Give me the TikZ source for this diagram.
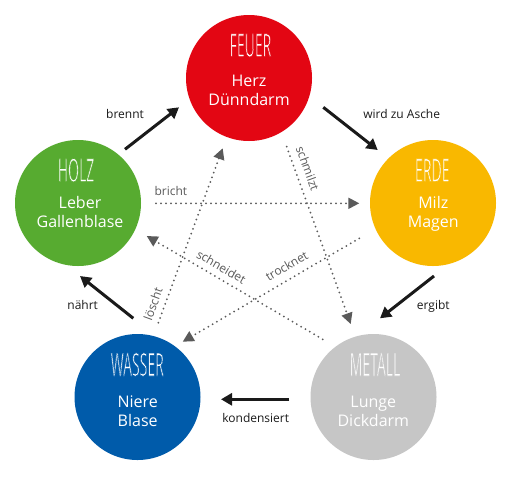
\documentclass[tikz,border=0pt]{standalone}
\usepackage{fontspec}
\setmainfont{Open Sans}
\usepackage{graphicx}
\usetikzlibrary{arrows.meta,calc}
\definecolor{feuerc}{HTML}{E30613}
\definecolor{holzc}{HTML}{57AB30}
\definecolor{erdec}{HTML}{F9B800}
\definecolor{wasserc}{HTML}{005BAA}
\definecolor{metallc}{HTML}{C6C6C6}
\definecolor{dotgrey}{HTML}{5A5A5A}
\definecolor{lblblack}{HTML}{1A1A1A}
% title: tall narrow letters, thinned by a stroke in the circle's colour
\newcommand{\ttltext}[2]{\scalebox{1}[2.3]{\fontsize{14}{14}\selectfont\special{pdf:literal direct 2 Tr 0.3 w #2 RG}#1\special{pdf:literal direct 0 Tr}}}
\begin{document}
\begin{tikzpicture}[x=1pt,y=-1pt,
  elem/.style={circle,inner sep=0pt,minimum size=126pt},
  ttl/.style={anchor=base,text=white,inner sep=0pt},
  body/.style={anchor=base,text=white,inner sep=0pt,font=\fontsize{16}{19}\selectfont},
  lbl/.style={anchor=base,inner sep=0pt,text=lblblack,font=\fontsize{12}{14}\selectfont},
  dlbl/.style={inner sep=0pt,text=dotgrey,font=\fontsize{12}{14}\selectfont},
  cyc/.style={lblblack,line width=3pt,-{Triangle[length=11pt,width=12pt]}},
  ctrl/.style={dotgrey,line width=2pt,line cap=round,dash pattern=on 0pt off 5pt,-{Triangle[length=11pt,width=11pt]}}
]
\useasboundingbox (0,0) rectangle (510,480);
\fill[white] (0,0) rectangle (510,480);

% circles
\node[elem,fill=feuerc]  (feuer)  at (249,78) {};
\node[elem,fill=holzc]   (holz)   at (78,203) {};
\node[elem,fill=erdec]   (erde)   at (433,203) {};
\node[elem,fill=wasserc] (wasser) at (137.5,397) {};
\node[elem,fill=metallc] (metall) at (373.5,397) {};

% titles and organs
\node[ttl] (t-feuer) at (250.5,56.7) {\ttltext{FEUER}{0.890 0.024 0.075}};
\node[body] (b-feuer1) at (249,86) {Herz};
\node[body] (b-feuer2) at (249,105.3) {Dünndarm};

\node[ttl] (t-holz) at (76,181.7) {\ttltext{HOLZ}{0.341 0.671 0.188}};
\node[body] (b-holz1) at (80,208.3) {Leber};
\node[body] (b-holz2) at (80,227) {Gallenblase};

\node[ttl] (t-erde) at (432.3,181.7) {\ttltext{ERDE}{0.976 0.722 0}};
\node[body] (b-erde1) at (433.3,208.3) {Milz};
\node[body] (b-erde2) at (433.3,227) {Magen};

\node[ttl] (t-wasser) at (137.3,376) {\ttltext{WASSER}{0 0.357 0.667}};
\node[body] (b-wasser1) at (137.7,407.3) {Niere};
\node[body] (b-wasser2) at (137.7,426) {Blase};

\node[ttl] (t-metall) at (375,376) {\ttltext{METALL}{0.776 0.776 0.776}};
\node[body] (b-metall1) at (373.3,407.3) {Lunge};
\node[body] (b-metall2) at (373.3,426) {Dickdarm};

% generating cycle (solid)
\draw[cyc] ($(holz)+(47,-53.7)$) -- ($(feuer)+(-70,29.3)$);
\draw[cyc] ($(feuer)+(74.3,29.3)$) -- ($(erde)+(-55.3,-53)$);
\draw[cyc] ($(erde)+(1,73)$) -- ($(metall)+(6.5,-78.7)$);
\draw[cyc] ($(metall)+(-84.2,2.3)$) -- ($(wasser)+(83.5,2.3)$);
\draw[cyc] ($(wasser)+(-4.2,-78.7)$) -- ($(holz)+(2,73)$);

\node[lbl] (l-brennt) at (125,118.3) {brennt};
\node[lbl] (l-asche) at (401.7,118.3) {wird zu Asche};
\node[lbl] (l-ergibt) at (433.3,309.3) {ergibt};
\node[lbl] (l-kond) at (255.7,422.7) {kondensiert};
\node[lbl] (l-naehrt) at (82.7,309.3) {nährt};

% controlling cycle (dotted)
\draw[ctrl] ($(holz)+(78,0.3)$) -- ($(erde)+(-73.7,0.3)$);
\draw[ctrl] ($(wasser)+(20.8,-74.3)$) -- ($(feuer)+(-26.3,70.3)$);
\draw[ctrl] ($(feuer)+(37.7,68.7)$) -- ($(metall)+(-22.8,-73)$);
\draw[ctrl] ($(metall)+(-50.8,-57.7)$) -- ($(holz)+(68.7,33)$);
\draw[ctrl] ($(erde)+(-73.7,35.3)$) -- ($(wasser)+(45.2,-55.3)$);

\node[dlbl,anchor=base west] (l-bricht) at (154.3,195) {bricht};
\node[dlbl,rotate=70] (l-loescht) at (153,304) {löscht};
\node[dlbl,rotate=-70] (l-schmilzt) at (307.7,168.3) {schmilzt};
\node[dlbl,rotate=-30] (l-schneidet) at (221.3,266.7) {schneidet};
\node[dlbl,rotate=30] (l-trocknet) at (286.7,265.7) {trocknet};
\end{tikzpicture}
\end{document}
